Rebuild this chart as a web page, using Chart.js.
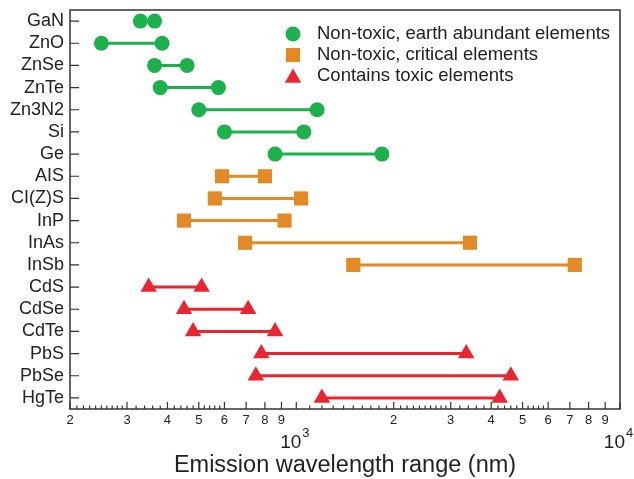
<!DOCTYPE html>
<html>
<head>
<meta charset="utf-8">
<script src="https://cdn.jsdelivr.net/npm/chart.js"></script>
<style>
  html, body { margin: 0; padding: 0; background: #fff; }
  #wrap { width: 634px; height: 479px; position: relative; }
</style>
</head>
<body>
<div id="wrap"><canvas id="c"></canvas></div>
<script>
const materials = ["GaN", "ZnO", "ZnSe", "ZnTe", "Zn3N2", "Si", "Ge", "AIS", "CI(Z)S", "InP",
  "InAs", "InSb", "CdS", "CdSe", "CdTe", "PbS", "PbSe", "HgTe"];
const lowNm = [330, 250, 365, 380, 500, 600, 860, 590, 560, 450, 695, 1500, 350, 450, 480, 780, 750, 1200];
const highNm = [365, 385, 460, 575, 1160, 1055, 1840, 800, 1035, 920, 3440, 7250, 510, 710, 860, 3350, 4600, 4250];
const groupOf = [0, 0, 0, 0, 0, 0, 0, 1, 1, 1, 1, 1, 2, 2, 2, 2, 2, 2];
const groupNames = ["Non-toxic, earth abundant elements", "Non-toxic, critical elements", "Contains toxic elements"];
const majorTicks = [200, 300, 400, 500, 600, 700, 800, 900, 1000, 2000, 3000, 4000, 5000, 6000, 7000, 8000, 9000, 10000];
const minorTicks = [210, 220, 230, 240, 250, 260, 270, 280, 290, 320, 340, 360, 380, 420, 440, 460, 480,
  520, 540, 560, 580, 1100, 1200, 1300, 1400, 1500, 1600, 1700, 1800, 1900, 2100, 2200, 2300, 2400, 2500,
  2600, 2700, 2800, 2900, 3200, 3400, 3600, 3800, 4200, 4400, 4600, 4800, 5200, 5400, 5600, 5800];

const colors = ["#1db14b", "#e38a26", "#eb2530"];
const styles = ["circle", "rect", "triangle"];
const radii = [7.5, 10, 9.5];
const FONT = "'Liberation Sans', Arial, sans-serif";

const datasets = materials.map((m, i) => {
  const g = groupOf[i];
  return {
    label: m,
    data: [{ x: lowNm[i], y: m }, { x: highNm[i], y: m }],
    showLine: true,
    borderColor: colors[g],
    backgroundColor: colors[g],
    borderWidth: 3,
    pointStyle: styles[g],
    pointRadius: radii[g],
    pointBorderWidth: 0,
    pointBackgroundColor: colors[g]
  };
});

function drawMarker(ctx, style, r, x, y) {
  ctx.beginPath();
  if (style === "circle") {
    ctx.arc(x, y, r, 0, Math.PI * 2);
  } else if (style === "rect") {
    const s = r * Math.SQRT1_2;
    ctx.rect(x - s, y - s, 2 * s, 2 * s);
  } else {
    ctx.moveTo(x, y - r);
    ctx.lineTo(x + r * Math.sin(2 * Math.PI / 3), y + r / 2);
    ctx.lineTo(x - r * Math.sin(2 * Math.PI / 3), y + r / 2);
    ctx.closePath();
  }
  ctx.fill();
}

const extras = {
  id: "extras",
  afterDraw(chart) {
    const ctx = chart.ctx;
    const a = chart.chartArea;
    const xs = chart.scales.x;
    const ys = chart.scales.y;
    ctx.save();
    ctx.strokeStyle = "#333";
    ctx.lineWidth = 1.5;
    ctx.strokeRect(a.left, a.top, a.right - a.left, a.bottom - a.top);

    // inward ticks on x
    ctx.lineWidth = 1.2;
    ctx.beginPath();
    majorTicks.forEach(v => {
      const px = xs.getPixelForValue(v);
      ctx.moveTo(px, a.bottom);
      ctx.lineTo(px, a.bottom - 7);
    });
    minorTicks.forEach(v => {
      const px = xs.getPixelForValue(v);
      ctx.moveTo(px, a.bottom);
      ctx.lineTo(px, a.bottom - 3.5);
    });
    // inward ticks on y
    materials.forEach((m, i) => {
      const py = ys.getPixelForValue(i);
      ctx.moveTo(a.left, py);
      ctx.lineTo(a.left + 9, py);
    });
    ctx.stroke();

    // decade labels
    ctx.fillStyle = "#222";
    [[1000, "3"], [10000, "4"]].forEach(([v, e]) => {
      const px = xs.getPixelForValue(v);
      ctx.font = "19px " + FONT;
      ctx.textBaseline = "alphabetic";
      ctx.textAlign = "right";
      ctx.fillText("10", px + 5, 448);
      ctx.font = "13px " + FONT;
      ctx.textAlign = "left";
      ctx.fillText(e, px + 6, 437);
    });

    // axis title
    ctx.font = "23.5px " + FONT;
    ctx.textAlign = "center";
    ctx.textBaseline = "middle";
    ctx.fillText("Emission wavelength range (nm)", 345, 466);

    // legend
    groupNames.forEach((name, g) => {
      const y = 34 + g * 21;
      ctx.fillStyle = colors[g];
      drawMarker(ctx, styles[g], radii[g], 293, g === 2 ? y + 2 : y);
      ctx.fillStyle = "#222";
      ctx.font = "18.5px " + FONT;
      ctx.textAlign = "left";
      ctx.textBaseline = "middle";
      ctx.fillText(name, 317, y);
    });
    ctx.restore();
  }
};

new Chart(document.getElementById("c"), {
  type: "scatter",
  data: { datasets: datasets },
  options: {
    responsive: true,
    maintainAspectRatio: false,
    animation: false,
    layout: { padding: { top: 10, right: 14, left: 0, bottom: 0 } },
    plugins: {
      legend: { display: false },
      tooltip: { enabled: false }
    },
    scales: {
      x: {
        type: "logarithmic",
        min: 200,
        max: 10000,
        afterBuildTicks(scale) {
          scale.ticks = majorTicks.map(v => ({ value: v }));
        },
        afterFit(scale) { scale.height = 70; },
        grid: { display: false, drawTicks: false },
        border: { display: false },
        ticks: {
          autoSkip: false,
          maxRotation: 0,
          padding: 4,
          color: "#222",
          font: { family: FONT, size: 13 },
          callback(value) {
            if (value === 1000 || value === 10000) return "";
            const p = Math.pow(10, Math.floor(Math.log10(value)));
            return String(Math.round(value / p));
          }
        }
      },
      y: {
        type: "category",
        labels: materials,
        offset: true,
        afterFit(scale) {
          scale.width = 70;
          scale.paddingTop = 0;
          scale.paddingBottom = 0;
        },
        grid: { display: false, drawTicks: false },
        border: { display: false },
        ticks: {
          autoSkip: false,
          padding: 6,
          color: "#222",
          font: { family: FONT, size: 18 }
        }
      }
    }
  },
  plugins: [extras]
});
</script>
</body>
</html>
